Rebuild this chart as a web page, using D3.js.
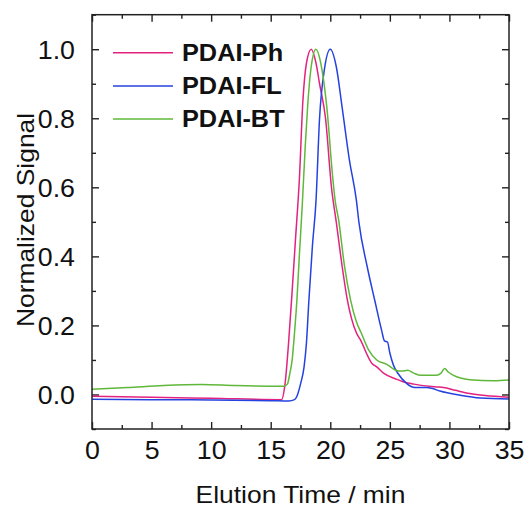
<html lang="en">
<head>
<script src="https://cdn.jsdelivr.net/npm/d3@7"></script>
</head>
<style>
body{margin:0;background:#fff;}
#drawarea text{font-family:"Liberation Sans",Arial,sans-serif;fill:#111;}
</style>
<body>
<div id="drawarea"></div>
<script>
// elution time (min) / normalized signal
const phTime=[0,5,10,15.9,16.2,16.5,16.8,17.1,17.4,17.7,18.0,18.4,18.8,19.1,19.6,20.1,20.5,21.0,21.4,22.2,22.5,23.5,23.9,24.5,25.5,26.1,27.0,28.9,29.5,30.5,31.7,33.0,35]
const phSignal=[-0.005,-0.008,-0.011,-0.015,0.03,0.15,0.3,0.46,0.62,0.85,0.96,1.0,0.96,0.9,0.8,0.6,0.5,0.37,0.28,0.178,0.16,0.09,0.08,0.061,0.045,0.037,0.03,0.022,0.02,0.012,0.003,-0.003,-0.008]

const flTime=[0,5,10,15,16.5,17.0,17.2,17.5,17.8,18.0,18.2,18.5,18.8,19.1,19.5,20.0,20.5,21.0,21.6,22.2,22.4,23.1,23.75,24.3,24.55,24.8,25.0,25.3,25.7,26.4,27.1,28.1,28.5,29.2,30.9,32.6,35]
const flSignal=[-0.014,-0.015,-0.016,-0.018,-0.019,-0.015,-0.005,0.03,0.08,0.15,0.27,0.43,0.56,0.8,0.94,1.0,0.95,0.83,0.68,0.56,0.5,0.37,0.27,0.187,0.155,0.152,0.12,0.085,0.06,0.032,0.02,0.02,0.018,0.01,-0.002,-0.01,-0.013]

const btTime=[0,3,6,9.2,12,16.1,16.4,16.6,16.8,17.0,17.2,17.4,17.65,17.9,18.1,18.4,18.8,19.2,19.7,20.2,20.4,20.7,21.2,21.7,22.2,22.6,23.2,23.9,24.7,25.6,26.0,26.5,27.0,27.5,28.9,29.3,29.6,29.9,30.3,31.7,33.7,35]
const btSignal=[0.015,0.02,0.026,0.029,0.026,0.024,0.03,0.06,0.1,0.18,0.274,0.4,0.55,0.72,0.835,0.95,1.0,0.96,0.835,0.63,0.564,0.506,0.37,0.274,0.21,0.178,0.13,0.1,0.088,0.069,0.068,0.07,0.062,0.056,0.056,0.062,0.075,0.065,0.056,0.043,0.04,0.042]

const seriesNames=["PDAI-Ph","PDAI-FL","PDAI-BT"]
const seriesColors=["#e3227f","#2442e0","#5fb83a"]
const xTicks=[0,5,10,15,20,25,30,35]
const yTicks=[0.0,0.2,0.4,0.6,0.8,1.0]

const W=530,H=508
const m={left:92,right:21,top:14.7,bottom:79}

const svg=d3.select("#drawarea").append("svg").attr("width",W).attr("height",H)
const x=d3.scaleLinear().domain([0,35]).range([m.left,W-m.right])
const y=d3.scaleLinear().domain([-0.1,1.1]).range([H-m.bottom,m.top])

const xMinor=d3.range(0,35.01,2.5).filter(d=>d%5!=0)
const yMinor=d3.range(-0.1,1.11,0.1).map(d=>+d.toFixed(2)).filter(d=>Math.round(d*10)%2!=0)

function styleAxis(g){
g.select(".domain").remove()
g.selectAll(".tick line").attr("stroke","#222").attr("stroke-width",1.4)
}
// major ticks with labels
svg.append("g").attr("transform","translate(0,"+(H-m.bottom)+")")
.call(d3.axisBottom(x).tickValues(xTicks).tickSizeInner(-7).tickSizeOuter(0).tickPadding(12).tickFormat(d3.format("d")))
.call(styleAxis).selectAll("text").attr("class","ticklab").attr("font-size",25).attr("dy","0.71em")
svg.append("g").attr("transform","translate("+m.left+",0)")
.call(d3.axisLeft(y).tickValues(yTicks).tickSizeInner(-7).tickSizeOuter(0).tickPadding(17).tickFormat(d3.format(".1f")))
.call(styleAxis).selectAll("text").attr("class","ticklab").attr("font-size",25).attr("dy","0.36em")
// mirrored ticks
svg.append("g").attr("transform","translate(0,"+m.top+")")
.call(d3.axisTop(x).tickValues(xTicks).tickSizeInner(-7).tickSizeOuter(0).tickFormat(""))
.call(styleAxis)
svg.append("g").attr("transform","translate("+(W-m.right)+",0)")
.call(d3.axisRight(y).tickValues(yTicks).tickSizeInner(-7).tickSizeOuter(0).tickFormat(""))
.call(styleAxis)
// minor ticks
svg.append("g").attr("transform","translate(0,"+(H-m.bottom)+")").call(d3.axisBottom(x).tickValues(xMinor).tickSizeInner(-4).tickSizeOuter(0).tickFormat("")).call(styleAxis)
svg.append("g").attr("transform","translate(0,"+m.top+")").call(d3.axisTop(x).tickValues(xMinor).tickSizeInner(-4).tickSizeOuter(0).tickFormat("")).call(styleAxis)
svg.append("g").attr("transform","translate("+m.left+",0)").call(d3.axisLeft(y).tickValues(yMinor).tickSizeInner(-4).tickSizeOuter(0).tickFormat("")).call(styleAxis)
svg.append("g").attr("transform","translate("+(W-m.right)+",0)").call(d3.axisRight(y).tickValues(yMinor).tickSizeInner(-4).tickSizeOuter(0).tickFormat("")).call(styleAxis)

// curves
const line=d3.line().x(d=>x(d[0])).y(d=>y(d[1])).curve(d3.curveMonotoneX)
const series=[d3.zip(phTime,phSignal),d3.zip(flTime,flSignal),d3.zip(btTime,btSignal)]
svg.append("defs").append("clipPath").attr("id","plotclip").append("rect")
.attr("x",m.left).attr("y",m.top).attr("width",W-m.left-m.right).attr("height",H-m.top-m.bottom)
const lines=svg.append("g").attr("clip-path","url(#plotclip)")
series.forEach((s,i)=>{
lines.append("path").datum(s).attr("d",line).attr("fill","none").attr("stroke",seriesColors[i]).attr("stroke-width",1.5)
})

// frame
svg.append("rect").attr("x",m.left).attr("y",m.top).attr("width",W-m.left-m.right).attr("height",H-m.top-m.bottom)
.attr("fill","none").attr("stroke","#222").attr("stroke-width",1.5)

// legend
const leg=svg.append("g")
seriesNames.forEach((n,i)=>{
let yy=52.7+i*33.2
leg.append("line").attr("x1",113).attr("x2",173).attr("y1",yy).attr("y2",yy).attr("stroke",seriesColors[i]).attr("stroke-width",1.5)
leg.append("text").attr("x",182).attr("y",yy).attr("dy","0.36em").attr("font-size",23).attr("font-weight","bold").text(n)
})

// axis titles
svg.append("text").attr("x",(m.left+W-m.right)/2).attr("y",503).attr("text-anchor","middle").attr("font-size",24).text("Elution Time / min")
svg.append("text").attr("transform","translate(34,220) rotate(-90)").attr("text-anchor","middle").attr("font-size",24).text("Normalized Signal")

// widen all text a little to match the picture
svg.selectAll("text").each(function(){
let len=this.getComputedTextLength()
let k=this.getAttribute("class")=="ticklab"?1.07:1.1
if(len>0){d3.select(this).attr("textLength",len*k).attr("lengthAdjust","spacingAndGlyphs")}
})
</script>
</body>
</html>
